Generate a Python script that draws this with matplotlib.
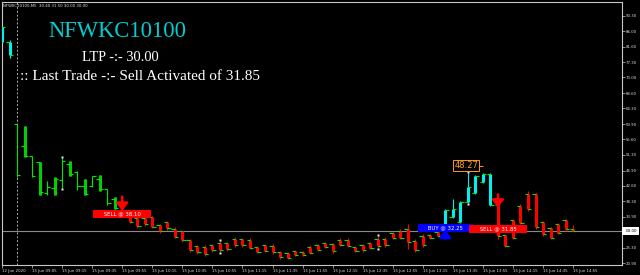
import matplotlib
matplotlib.use('Agg')
import matplotlib.pyplot as plt
import matplotlib.transforms as mtrans

# ---------------- data ----------------
highs = [87.7, 83.5, 59.8, 59.5, 51.1, 49.4, 44.0, 45.0, 50.3, 49.5,
         46.7, 44.4, 45.4, 45.6, 41.8, 39.4, 37.6, 34.4, 34.2, 34.1,
         34.1, 31.9, 32.8, 31.0, 30.3, 27.7, 26.0, 26.0, 26.3, 27.2,
         27.0, 28.2, 28.0, 27.9, 25.8, 26.3, 26.3, 24.4, 24.1, 24.7,
         24.4, 26.0, 26.3, 26.8, 26.6, 27.9, 27.9, 25.8, 26.3, 26.9,
         28.6, 28.2, 29.8, 30.5, 31.9, 27.7, 29.1, 29.1, 30.0, 36.1,
         39.0, 38.4, 46.3, 45.6, 46.3, 46.3, 37.5, 29.1, 33.3, 37.5,
         41.2, 40.7, 32.8, 31.2, 32.3, 33.3, 31.5]
lows = [82.1, 78.5, 45.0, 50.6, 45.0, 40.0, 40.0, 40.0, 41.9, 45.4,
        41.4, 40.0, 42.4, 41.2, 37.3, 36.1, 34.9, 32.1, 30.8, 31.4,
        30.7, 29.4, 30.3, 27.9, 26.8, 24.1, 23.5, 22.9, 24.0, 24.0,
        24.4, 25.5, 25.4, 24.9, 23.8, 24.0, 23.5, 22.1, 22.1, 22.9,
        22.9, 23.5, 24.4, 25.1, 23.8, 25.8, 25.4, 24.1, 24.1, 24.9,
        25.2, 25.4, 27.7, 27.7, 24.9, 24.0, 25.6, 27.7, 28.2, 30.9,
        33.7, 32.3, 37.9, 40.2, 43.5, 37.0, 27.7, 25.4, 27.7, 31.9,
        35.6, 30.5, 28.6, 27.7, 29.1, 30.0, 30.0]
opens = [83.0, 83.0, 59.8, 53.7, 51.1, 49.2, 40.6, 42.1, 44.2, 48.6,
         46.6, 42.5, 42.6, 44.6, 41.6, 39.0, 37.2, 34.0, 33.7, 33.6,
         33.9, 31.5, 32.4, 30.6, 30.0, 27.3, 25.7, 25.4, 26.0, 26.6,
         26.6, 27.7, 27.6, 27.5, 25.5, 25.9, 25.8, 24.0, 23.8, 24.3,
         24.1, 25.5, 26.0, 26.5, 26.2, 27.5, 27.5, 25.5, 25.9, 26.5,
         27.8, 27.7, 29.4, 30.0, 30.4, 27.2, 28.6, 28.8, 29.6, 31.2,
         33.9, 32.6, 38.1, 40.5, 43.8, 46.0, 37.2, 28.7, 32.9, 37.0,
         40.2, 40.2, 32.4, 30.8, 31.9, 32.9, 30.4]
closes = [87.2, 79.2, 45.6, 50.9, 45.4, 40.9, 42.2, 44.6, 49.6, 45.8,
          42.5, 40.4, 45.3, 41.6, 37.8, 36.4, 35.3, 32.4, 31.3, 31.8,
          31.2, 29.9, 30.8, 28.3, 27.4, 24.6, 24.0, 23.6, 24.5, 24.5,
          24.9, 26.0, 25.9, 25.3, 24.2, 24.4, 24.0, 22.6, 22.5, 23.2,
          23.2, 23.9, 24.7, 25.4, 24.3, 26.1, 25.8, 24.4, 24.5, 25.3,
          25.8, 25.9, 28.0, 28.1, 26.8, 24.5, 26.1, 28.0, 28.5, 35.8,
          36.0, 38.1, 42.2, 45.3, 46.0, 37.3, 28.5, 25.8, 28.1, 32.3,
          36.0, 31.2, 29.0, 28.1, 29.5, 30.4, 30.0]
# 0 = plain bar, 1 = green painted, 2 = red painted, 3 = cyan painted
state = [3, 3, 0, 1, 0, 1, 0, 1, 0, 1,
         0, 1, 0, 1, 0, 1, 0, 2, 2, 2,
         2, 2, 2, 2, 2, 2, 2, 2, 2, 2,
         2, 2, 2, 2, 2, 2, 2, 2, 2, 2,
         2, 2, 2, 2, 2, 2, 2, 2, 2, 2,
         2, 2, 2, 2, 2, 2, 2, 2, 2, 3,
         3, 3, 3, 3, 3, 3, 2, 2, 2, 2,
         2, 2, 2, 2, 2, 2, 2]
fractal_bars = [8, 29, 50, 62]
ytick_vals = [90.30, 86.00, 81.60, 77.30, 73.00, 68.60, 64.30, 59.90, 55.60,
              51.30, 46.90, 42.60, 38.30, 33.90, 25.30, 20.90]
xtick_bars = [0, 4, 8, 12, 16, 20, 24, 28, 32, 36, 40, 44, 48, 52, 56, 60,
              64, 68, 72, 76]
xtick_labels = ['12 Jun 2020', '15 Jun 09:05', '15 Jun 09:15', '15 Jun 09:35',
                '15 Jun 09:55', '15 Jun 10:15', '15 Jun 10:35', '15 Jun 10:55',
                '15 Jun 11:15', '15 Jun 11:35', '15 Jun 11:55', '15 Jun 12:15',
                '15 Jun 12:35', '15 Jun 12:55', '15 Jun 13:15', '15 Jun 13:35',
                '15 Jun 13:55', '15 Jun 14:15', '15 Jun 14:35', '15 Jun 14:55']
separator_bar = 2
last_price = 30.00
signal_bars = [16, 59, 66]
signal_types = ['SELL', 'BUY', 'SELL']
signal_prices = [38.10, 32.25, 31.85]
peak_bar = 62
peak_value = 48.27
symbol = 'NFWKC10100'

# ---------------- figure ----------------
W, H = 640, 275
fig = plt.figure(figsize=(W / 100, H / 100), dpi=100, facecolor='black')
ax = fig.add_axes([2 / W, 10 / H, 619.7 / W, 263 / H])
ax.set_facecolor('black')
ax.set_xlim(0.066, 82.47)
ax.set_ylim(20.42, 94.13)

lime = '#00E800'
paint = {1: '#00D000', 2: '#FF0000', 3: '#00F0F0'}

ax.axvline(separator_bar, color='#B0B0B0', lw=0.7, ls=(0, (2, 2)), zorder=1)
ax.axhline(last_price, color='#8A8A8A', lw=0.8, zorder=1)

for i in range(len(highs)):
    s = state[i]
    wick_col = lime if s in (0, 1) else paint[s]
    ax.vlines(i, lows[i], highs[i], color=wick_col, lw=0.8, zorder=2)
    if s == 1:
        ax.vlines(i, lows[i], highs[i], color=paint[1], lw=2.2, zorder=3)
    elif s in (2, 3):
        ax.vlines(i, min(opens[i], closes[i]), max(opens[i], closes[i]),
                  color=paint[s], lw=2.2, zorder=3)
    ax.hlines(opens[i], i - 0.45, i, color=lime, lw=0.8, zorder=4)
    ax.hlines(closes[i], i, i + 0.45, color=lime, lw=0.8, zorder=4)

for b in fractal_bars:
    ax.plot([b, b], [highs[b] + 0.3, lows[b] - 0.3], ls='none', marker='s',
            ms=1.6, color='#E8E8FF', mec='none', zorder=5)

# signal arrows and labels
arrow_spans = {16: (39.6, 35.6), 59: (27.7, 30.3), 66: (40.2, 36.5)}
label_levels = {16: 34.7, 59: 30.9, 66: 30.6}
for b, kind, price in zip(signal_bars, signal_types, signal_prices):
    col = '#FF0000' if kind == 'SELL' else '#0000FF'
    y0, y1 = arrow_spans[b]
    ax.annotate('', xy=(b, y1), xytext=(b, y0),
                arrowprops=dict(arrowstyle='-|>,head_width=0.35,head_length=0.45',
                                color=col, lw=1.8, shrinkA=0, shrinkB=0),
                zorder=6)
    ax.text(b, label_levels[b], f'     {kind} @ {price:.2f}     ', color='white',
            fontsize=3.9, ha='center', va='center', zorder=7,
            bbox=dict(boxstyle='square,pad=0.28', fc=col, ec='none'))

ax.text(peak_bar - 0.2, 48.2, f'{peak_value:.2f}', color='#FF9A1A', fontsize=6,
        ha='center', va='center', zorder=7,
        bbox=dict(boxstyle='square,pad=0.12', fc='black', ec='#FF9A1A', lw=0.7))
ax.hlines(48.2, peak_bar + 1.5, peak_bar + 2.0, color='#FF9A1A', lw=0.7, zorder=7)

# axes styling
for sp in ax.spines.values():
    sp.set_color('#C8C8C8')
    sp.set_linewidth(0.8)
ax.yaxis.tick_right()
ax.set_yticks(ytick_vals)
ax.set_yticklabels([f'{v:.2f}' for v in ytick_vals])
ax.set_xticks(xtick_bars)
ax.set_xticklabels(xtick_labels)
for lab in ax.get_xticklabels():
    lab.set_ha('left')
ax.tick_params(axis='both', colors='#C8C8C8', labelcolor='#DADAE6',
               labelsize=2.8, length=2, width=0.5, pad=1)

tr = mtrans.blended_transform_factory(ax.transAxes, ax.transData)
ax.text(1.003, last_price, ' 30.00 ', transform=tr, ha='left', va='center',
        fontsize=2.9, color='black', clip_on=False,
        bbox=dict(boxstyle='square,pad=0.45', fc='white', ec='none'))

# header texts
fig.text(3 / W, 1 - 6 / H, f'{symbol},M5  30.40 31.50 30.00 30.00',
         color='#E0E0E0', fontsize=2.8, ha='left', va='center')
fig.text(117 / W, 1 - 36.7 / H, symbol, color='#00CED1', fontsize=16.3,
         family='Liberation Serif', ha='center', va='baseline')
fig.text(120 / W, 1 - 60.7 / H, f'LTP -:- {last_price:.2f}', color='white',
         fontsize=10.4, family='Liberation Serif', ha='center', va='baseline')
fig.text(20.5 / W, 1 - 80 / H,
         f':: Last Trade -:- Sell Activated of {signal_prices[-1]:.2f}',
         color='white', fontsize=11.0, family='Liberation Serif',
         ha='left', va='baseline')

fig.savefig('out.png', dpi=100, facecolor='black')
